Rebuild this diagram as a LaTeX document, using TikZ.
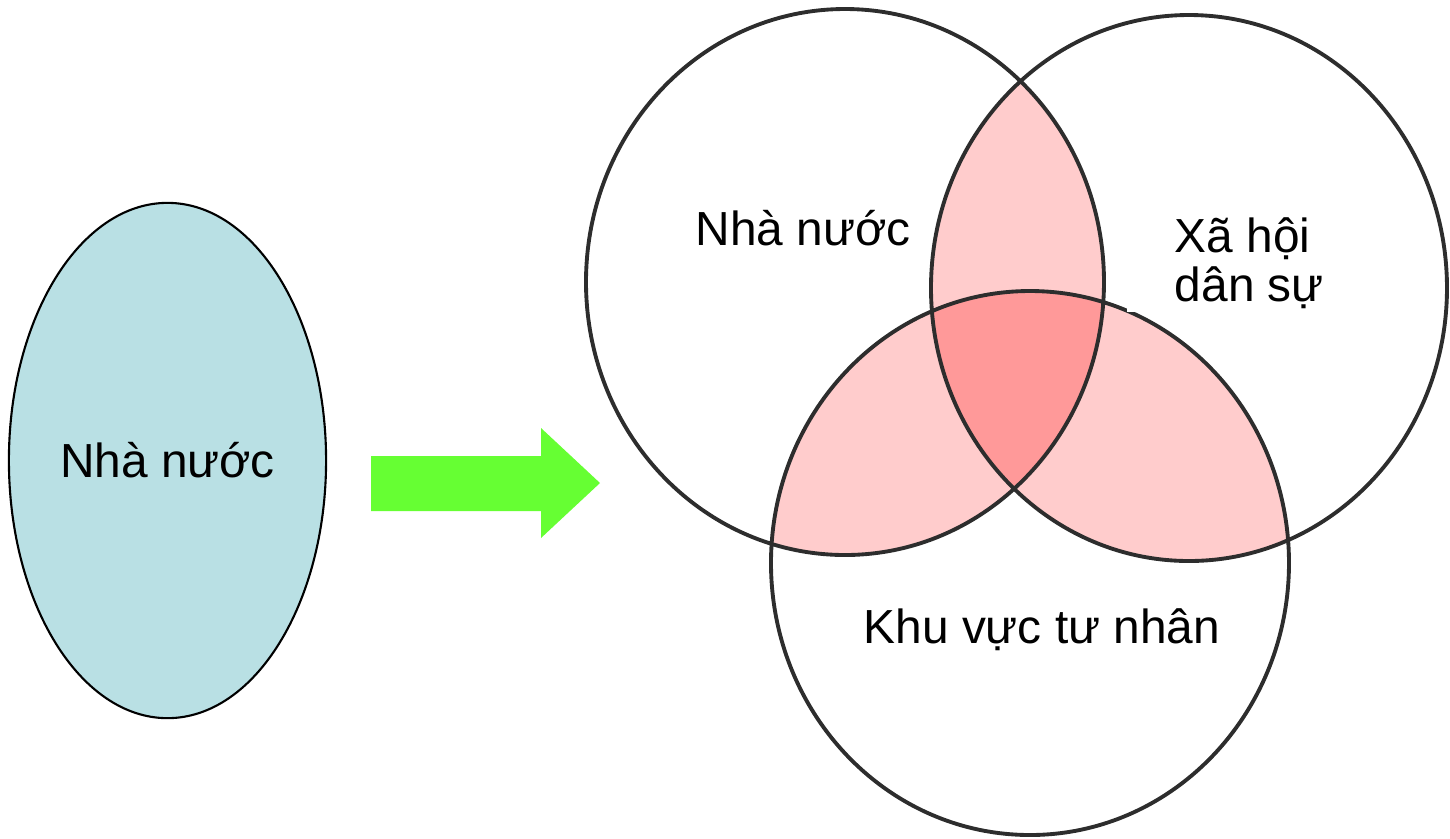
\documentclass[tikz,border=0pt]{standalone}
\usepackage{fontspec}
\setmainfont{Liberation Sans}
\usetikzlibrary{shapes.geometric}

\begin{document}
\begin{tikzpicture}[x=0.01cm, y=-0.01cm, font=\fontsize{13.6}{13.7}\selectfont, align=center, line width=1.1pt]
        % Define colors
        \definecolor{govblue}{RGB}{185,224,228}
        \definecolor{arrowgreen}{RGB}{102,255,51}
        \definecolor{lightpink}{RGB}{255,204,204}
        \definecolor{midpink}{RGB}{255,153,153}
        \definecolor{rimgray}{RGB}{45,45,45}

        \useasboundingbox (0,0) rectangle (1450,838);

        % Sets
        \def\stateset{(845,282) ellipse [x radius=259, y radius=273]}
        \def\civilset{(1189,288) ellipse [x radius=258, y radius=273]}
        \def\privateset{(1030,563) ellipse [x radius=259, y radius=272]}

        % Overlaps
        \begin{scope}
            \clip \stateset;
            \fill[lightpink] \civilset;
            \fill[lightpink] \privateset;
        \end{scope}
        \begin{scope}
            \clip \civilset;
            \fill[lightpink] \privateset;
        \end{scope}
        \begin{scope}
            \clip \stateset;
            \clip \civilset;
            \fill[midpink] \privateset;
        \end{scope}
        \draw[rimgray] \stateset \civilset \privateset;

        % Nodes
        \node[ellipse, draw=black, line width=0.6pt, fill=govblue, minimum width=3.17cm, minimum height=5.15cm, inner sep=0pt] (state) at (167.5,460.5) {Nhà nước};
        \node[anchor=base] (statelbl) at (803,245) {Nhà nước};
        \node[fill=white, align=left, anchor=base west, inner xsep=0.48cm, inner ysep=0.04cm] (civillbl) at (1125,301) {Xã hội\\dân sự};
        \node[anchor=base] (privatelbl) at (1042,643) {Khu vực tư nhân};

        % Arrow
        \fill[arrowgreen] (371,456) -- (541,456) -- (541,428) -- (600,483) -- (541,538) -- (541,511) -- (371,511) -- cycle;
    \end{tikzpicture}
\end{document}
